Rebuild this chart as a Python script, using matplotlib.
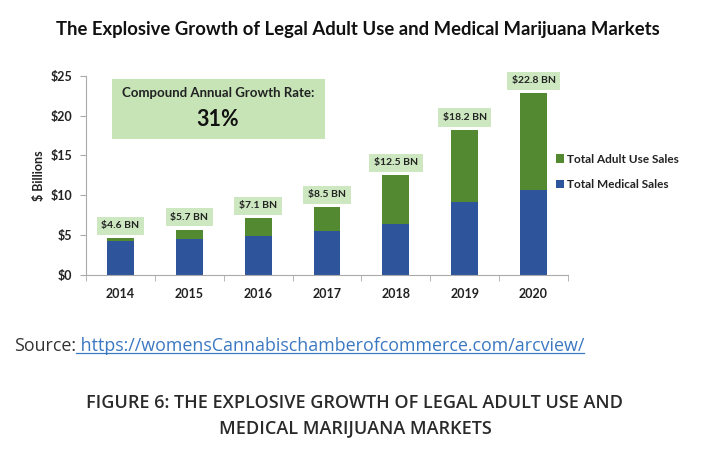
import matplotlib
matplotlib.use("Agg")
import matplotlib.pyplot as plt
from matplotlib.lines import Line2D
from matplotlib.patches import Rectangle
import numpy as np

years = ["2014", "2015", "2016", "2017", "2018", "2019", "2020"]
medical = [4.3, 4.5, 4.9, 5.5, 6.4, 9.1, 10.7]
adult_use = [0.3, 1.2, 2.2, 3.0, 6.1, 9.1, 12.1]
totals = [4.6, 5.7, 7.1, 8.5, 12.5, 18.2, 22.8]
yticks = [0, 5, 10, 15, 20, 25]
ytick_labels = ["$0", "$5", "$10", "$15", "$20", "$25"]

BLUE = "#2E559B"
GREEN = "#538A31"
BOX = "#CDE8C0"
FONT = "Lato"

fig = plt.figure(figsize=(7.1, 4.51), dpi=100)
fig.patch.set_facecolor("white")
ax = fig.add_axes([86/710, 1-275/451, (568-86)/710, (275-75.7)/451])

x = np.arange(len(years))
w = 0.39
ax.bar(x, medical, width=w, color=BLUE, label="Total Medical Sales", zorder=2)
ax.bar(x, adult_use, width=w, bottom=medical, color=GREEN, label="Total Adult Use Sales", zorder=2)

for xi, t in zip(x, totals):
    ax.annotate(f"${t} BN", xy=(xi, t), xytext=(0, 9), textcoords="offset points",
                ha="center", va="center", fontsize=7.5, fontweight="bold", family=FONT,
                color="#222222",
                bbox=dict(boxstyle="square,pad=0.45", fc=BOX, ec="none"))

ax.set_xlim(-0.5, len(years) - 0.5)
ax.set_ylim(0, 25)
ax.set_yticks(yticks)
ax.set_yticklabels(ytick_labels, fontsize=9, fontweight="bold", family=FONT, color="#222222")
ax.set_xticks(x)
ax.set_xticklabels(years, fontsize=9, fontweight="bold", family=FONT, color="#222222")
ax.set_xticks(np.arange(-0.5, len(years), 1), minor=True)
ax.tick_params(axis="x", which="major", length=0, pad=9)
ax.tick_params(axis="x", which="minor", length=4, color="#AAAAAA", direction="out")
ax.tick_params(axis="y", length=4, color="#AAAAAA", direction="out", pad=6)
for s in ["top", "right"]:
    ax.spines[s].set_visible(False)
for s in ["left", "bottom"]:
    ax.spines[s].set_color("#AAAAAA")
    ax.spines[s].set_linewidth(0.8)
ax.set_ylabel("$ Billions", fontsize=9, fontweight="bold", family=FONT, color="#222222", labelpad=4)

# CAGR box
fig.patches.append(Rectangle((112/710, 1-139/451), (325-112)/710, (139-79)/451,
                             transform=fig.transFigure, fc="#C6E4B6", ec="none", zorder=1))
fig.text(218/710, 1-93/451, "Compound Annual Growth Rate:", ha="center", va="center",
         fontsize=9.5, fontweight="bold", family=FONT, color="#222222")
fig.text(218/710, 1-119/451, "31%", ha="center", va="center",
         fontsize=15.5, fontweight="bold", family=FONT, color="#111111")

handles, labels = ax.get_legend_handles_labels()
fig.legend(handles[::-1], labels[::-1], loc="upper left", bbox_to_anchor=(545/710, 1-143/451),
           frameon=False, handlelength=0.7, handleheight=0.7, handletextpad=0.3,
           labelspacing=1.2, prop=dict(family=FONT, weight="bold", size=8.5))
for t in fig.legends[0].get_texts():
    t.set_color("#222222")

fig.text(358/710, 1-30/451, "The Explosive Growth of Legal Adult Use and Medical Marijuana Markets",
         ha="center", va="center", fontsize=13.3, fontweight="bold", family=FONT, color="#111111")

# Source line
src = fig.text(14/710, 1-346/451, "Source:", ha="left", va="center", fontsize=12.9,
               family="Open Sans", color="#333333")
fig.canvas.draw()
r = fig.canvas.get_renderer()
bb = src.get_window_extent(r)
url = fig.text(bb.x1/710, 1-346/451, " https://womensCannabischamberofcommerce.com/arcview/",
               ha="left", va="center", fontsize=12.9, family="Open Sans", color="#3B78C2")
fig.canvas.draw()
ub = url.get_window_extent(r)
fig.add_artist(Line2D([ub.x0/710, ub.x1/710], [(ub.y0+2)/451, (ub.y0+2)/451],
                      transform=fig.transFigure, color="#3B78C2", lw=0.9))

fig.text(355/710, 1-403/451, "FIGURE 6: THE EXPLOSIVE GROWTH OF LEGAL ADULT USE AND",
         ha="center", va="center", fontsize=13, fontweight="semibold", family="Open Sans",
         color="#2A2A2A")
fig.text(355/710, 1-428/451, "MEDICAL MARIJUANA MARKETS",
         ha="center", va="center", fontsize=13, fontweight="semibold", family="Open Sans",
         color="#2A2A2A")

fig.savefig("out.png", dpi=100, facecolor="white")
